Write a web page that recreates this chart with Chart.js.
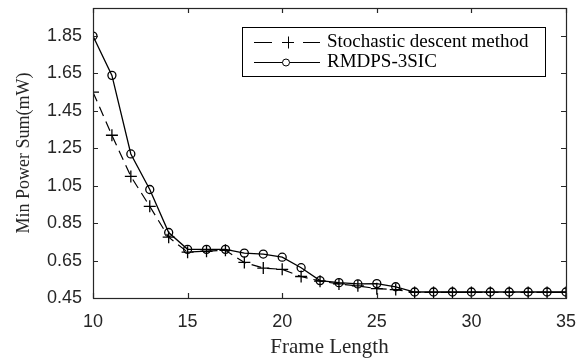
<!DOCTYPE html>
<html lang="en">
<head>
  <meta charset="UTF-8">
  <title>Min Power Sum vs Frame Length</title>
  <script src="https://cdn.jsdelivr.net/npm/chart.js"></script>
  <style>
    body { margin: 0; padding: 0; background: #ffffff; }
    .wrap { width: 587px; height: 360px; position: relative; }
  </style>
</head>
<body>
  <div class="wrap">
    <canvas id="powerChart" width="587" height="360"></canvas>
  </div>

  <script>
    // Data
    const frameLength = [10, 11, 12, 13, 14, 15, 16, 17, 18, 19, 20, 21, 22, 23, 24, 25, 26, 27, 28, 29, 30, 31, 32, 33, 34, 35];
    const stochastic = [1.55, 1.32, 1.10, 0.94, 0.775, 0.695, 0.70, 0.705, 0.64, 0.61, 0.603, 0.565, 0.54, 0.525, 0.515, 0.50, 0.495, 0.48, 0.48, 0.48, 0.48, 0.48, 0.48, 0.48, 0.48, 0.48];
    const rmdps = [1.85, 1.64, 1.22, 1.03, 0.80, 0.71, 0.71, 0.71, 0.69, 0.685, 0.668, 0.612, 0.543, 0.532, 0.525, 0.527, 0.51, 0.482, 0.482, 0.482, 0.482, 0.482, 0.482, 0.482, 0.482, 0.482];
    const yTicks = [0.45, 0.65, 0.85, 1.05, 1.25, 1.45, 1.65, 1.85];
    const xTicks = [10, 15, 20, 25, 30, 35];
    const seriesNames = ['Stochastic descent method', 'RMDPS-3SIC'];

    const serif = "'Liberation Serif', 'Times New Roman', serif";
    const sans = "'Liberation Sans', Arial, sans-serif";

    // box, inward ticks and the legend, matlab style
    const matlabFrame = {
      id: 'matlabFrame',
      afterDraw(chart) {
        const ctx = chart.ctx;
        const a = chart.chartArea;
        const xs = chart.scales.x, ys = chart.scales.y;
        ctx.save();
        ctx.strokeStyle = '#262626';
        ctx.lineWidth = 1.2;
        ctx.strokeRect(a.left + 0.5, a.top + 0.5, a.right - a.left, a.bottom - a.top);
        ctx.beginPath();
        xTicks.forEach(v => {
          const px = Math.round(xs.getPixelForValue(v)) + 0.5;
          ctx.moveTo(px, a.bottom); ctx.lineTo(px, a.bottom - 5);
          ctx.moveTo(px, a.top); ctx.lineTo(px, a.top + 5);
        });
        yTicks.forEach(v => {
          const py = Math.round(ys.getPixelForValue(v)) + 0.5;
          ctx.moveTo(a.left, py); ctx.lineTo(a.left + 5, py);
          ctx.moveTo(a.right, py); ctx.lineTo(a.right - 5, py);
        });
        ctx.stroke();

        // legend
        const lx = 242, ly = 27, lw = 303, lh = 49;
        ctx.lineWidth = 1;
        ctx.fillStyle = '#ffffff';
        ctx.fillRect(lx, ly, lw, lh);
        ctx.strokeStyle = '#000000';
        ctx.strokeRect(lx + 0.5, ly + 0.5, lw, lh);

        const rows = [42.5, 62.5];
        // dashed + cross
        ctx.beginPath();
        ctx.moveTo(254, rows[0]); ctx.lineTo(272, rows[0]);
        ctx.moveTo(303, rows[0]); ctx.lineTo(320, rows[0]);
        ctx.moveTo(288 - 6, rows[0]); ctx.lineTo(288 + 6, rows[0]);
        ctx.moveTo(288.5, rows[0] - 6); ctx.lineTo(288.5, rows[0] + 6);
        ctx.stroke();
        // solid + circle
        ctx.beginPath();
        ctx.moveTo(254, rows[1]); ctx.lineTo(320, rows[1]);
        ctx.stroke();
        ctx.beginPath();
        ctx.arc(286, rows[1], 3.5, 0, Math.PI * 2);
        ctx.fillStyle = '#ffffff';
        ctx.fill();
        ctx.stroke();

        ctx.fillStyle = '#000000';
        ctx.font = "19px " + serif;
        ctx.textBaseline = 'middle';
        ctx.textAlign = 'left';
        ctx.fillText(seriesNames[0], 327, rows[0]);
        ctx.fillText(seriesNames[1], 327, rows[1]);
        ctx.restore();
      }
    };

    const ctxPower = document.getElementById('powerChart').getContext('2d');
    const powerChart = new Chart(ctxPower, {
      type: 'line',
      data: {
        labels: frameLength,
        datasets: [{
          label: seriesNames[0],
          data: frameLength.map((x, i) => ({ x: x, y: stochastic[i] })),
          borderColor: '#000000',
          borderWidth: 1.2,
          borderDash: [10, 6],
          pointStyle: 'cross',
          pointRadius: 6,
          pointBorderColor: '#000000',
          pointBorderWidth: 1.3,
          tension: 0
        }, {
          label: seriesNames[1],
          data: frameLength.map((x, i) => ({ x: x, y: rmdps[i] })),
          borderColor: '#000000',
          borderWidth: 1.3,
          pointStyle: 'circle',
          pointRadius: 4,
          pointBackgroundColor: 'rgba(255,255,255,0)',
          pointBorderColor: '#000000',
          pointBorderWidth: 1.3,
          tension: 0
        }]
      },
      options: {
        responsive: false,
        animation: false,
        layout: { padding: { top: 8, right: 21, left: 0, bottom: 0 } },
        plugins: {
          legend: { display: false },
          tooltip: { enabled: false }
        },
        scales: {
          x: {
            type: 'linear',
            min: 10,
            max: 35,
            afterBuildTicks: scale => { scale.ticks = xTicks.map(v => ({ value: v })); },
            afterFit: scale => { scale.height = 62; scale.paddingLeft = 0; scale.paddingRight = 0; },
            grid: { display: false },
            border: { display: false },
            ticks: { color: '#262626', font: { family: sans, size: 18 }, padding: 5 },
            title: { display: true, text: 'Frame Length', color: '#262626', font: { family: serif, size: 21 }, padding: { top: 0, bottom: 0 } }
          },
          y: {
            min: 0.45,
            max: 2.0,
            afterBuildTicks: scale => { scale.ticks = yTicks.map(v => ({ value: v })); },
            afterFit: scale => { scale.width = 93; scale.paddingTop = 0; scale.paddingBottom = 0; },
            grid: { display: false },
            border: { display: false },
            ticks: { color: '#262626', font: { family: sans, size: 18 }, padding: 3, callback: v => v.toFixed(2) },
            title: { display: true, text: 'Min Power Sum(mW)', color: '#262626', font: { family: serif, size: 18 }, padding: { top: 13, bottom: 0 } }
          }
        }
      },
      plugins: [matlabFrame]
    });
  </script>
</body>
</html>
